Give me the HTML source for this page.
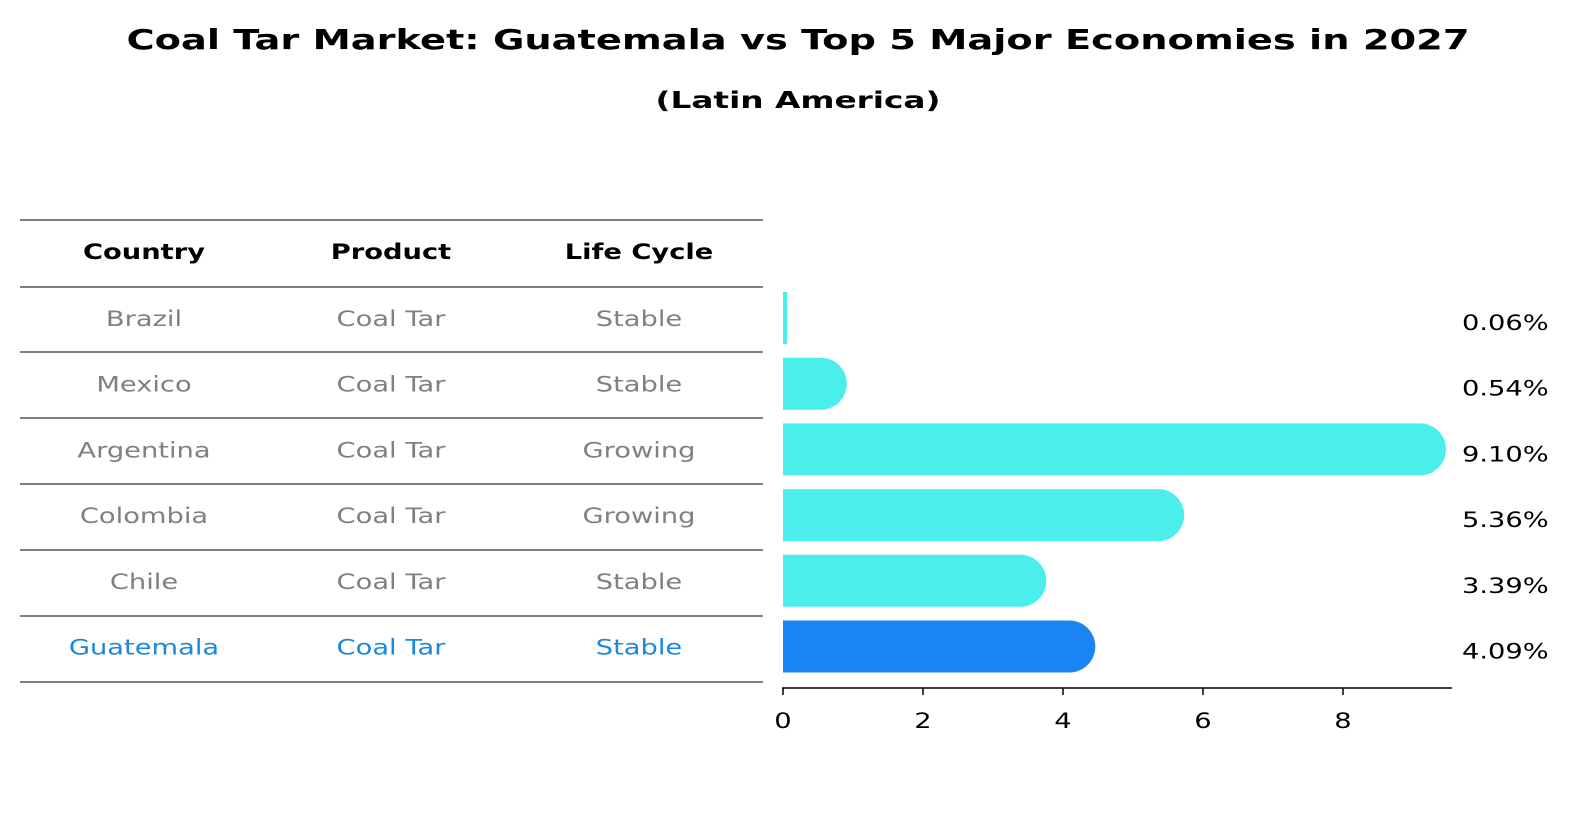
<!DOCTYPE html>
<html><head><meta charset="utf-8"><style>
body{margin:0;background:#fff;font-family:"DejaVu Sans","Liberation Sans",sans-serif;}
svg text{font-family:"DejaVu Sans","Liberation Sans",sans-serif;}
</style></head><body>
<svg width="1586" height="823" viewBox="0 0 1586 823" xmlns="http://www.w3.org/2000/svg">
<text x="798" y="49" text-anchor="middle" font-size="28" font-weight="bold" textLength="1343" lengthAdjust="spacingAndGlyphs">Coal Tar Market: Guatemala vs Top 5 Major Economies in 2027</text>
<text x="798" y="108" text-anchor="middle" font-size="23" font-weight="bold" textLength="285" lengthAdjust="spacingAndGlyphs">(Latin America)</text>
<g id="table"></g>
<g id="bars"></g>
<g id="axis"></g>
</svg>
<script>
const countries=["Brazil","Mexico","Argentina","Colombia","Chile","Guatemala"];
const products=["Coal Tar","Coal Tar","Coal Tar","Coal Tar","Coal Tar","Coal Tar"];
const lifeCycles=["Stable","Stable","Growing","Growing","Stable","Stable"];
const values=[0.06,0.54,9.10,5.36,3.39,4.09];
const valueLabels=["0.06%","0.54%","9.10%","5.36%","3.39%","4.09%"];
const ticks=[0,2,4,6,8];
const NS="http://www.w3.org/2000/svg";
function mk(t,a,p){const e=document.createElementNS(NS,t);for(const k in a)e.setAttribute(k,a[k]);p.appendChild(e);return e;}
const x0=783,pxPerUnit=70;
const xs=v=>x0+v*pxPerUnit;
const rowY=i=>318+i*65.7;
const widen=[];
const tbl=document.getElementById('table');
const colX=[144,391,639];
const lineYs=[220,287,352,418,484,550,616,682];
lineYs.forEach((y,i)=>{const l=mk('line',{x1:20,x2:763,y1:y,y2:y,stroke:'#000','stroke-width':1},tbl);

});
["Country","Product","Life Cycle"].forEach((h,j)=>{const t=mk('text',{x:colX[j],y:259,'text-anchor':'middle','font-size':21,'font-weight':'bold'},tbl);t.textContent=h;

widen.push(t);});
countries.forEach((c,i)=>{const col=i===countries.length-1?'#1a88e0':'#808080';
[c,products[i],lifeCycles[i]].forEach((v,j)=>{const t=mk('text',{x:colX[j],y:rowY(i)+8,'text-anchor':'middle','font-size':21,fill:col},tbl);t.textContent=v;

widen.push(t);});});
const bars=document.getElementById('bars');
const bh=52,r=26;
values.forEach((v,i)=>{const y=rowY(i)-bh/2;const xe=xs(v);const col=i===values.length-1?'#1a84f2':'#4aeeea';
let d;
if(v<0.1){d=`M${x0},${y}H${xe}V${y+bh}H${x0}Z`;}
else d=`M${x0},${y}H${xe}A${r},${r} 0 0 1 ${xe},${y+bh}H${x0}Z`;
const p=mk('path',{d:d,fill:col},bars);


const t=mk('text',{x:1462,y:rowY(i)+12,'font-size':21,fill:'#000'},bars);t.textContent=valueLabels[i];

widen.push(t);});
const ax=document.getElementById('axis');
const al=mk('line',{x1:782,x2:1452,y1:688,y2:688,stroke:'#000','stroke-width':1.5},ax);


ticks.forEach(v=>{const tl=mk('line',{x1:xs(v),x2:xs(v),y1:688,y2:695,stroke:'#000','stroke-width':1.5},ax);


const t=mk('text',{x:xs(v),y:728,'text-anchor':'middle','font-size':21},ax);t.textContent=v;

widen.push(t);});
widen.forEach(t=>{try{const w=t.getComputedTextLength();if(w>0){t.setAttribute('textLength',(w*1.3).toFixed(1));t.setAttribute('lengthAdjust','spacingAndGlyphs');}}catch(e){}});
</script>
</body></html>
